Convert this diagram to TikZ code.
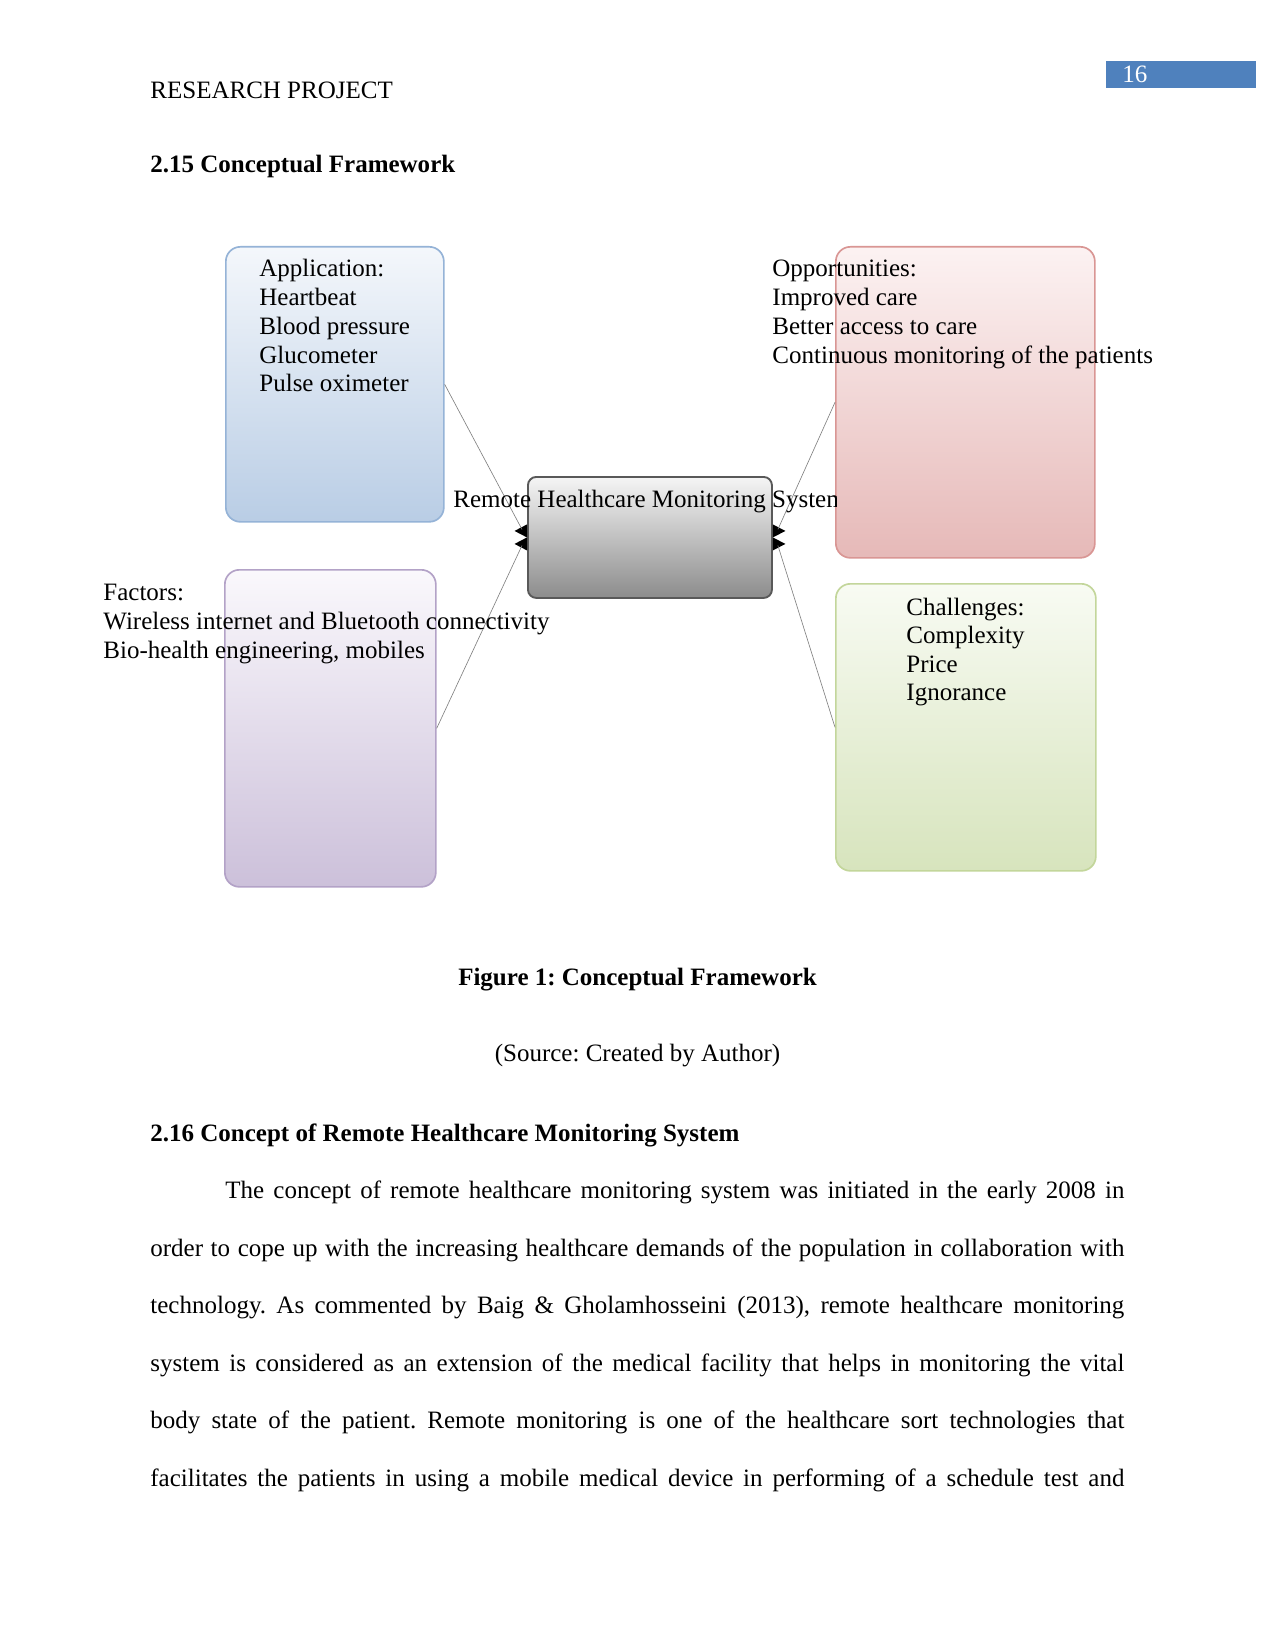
\documentclass[tikz,border=0pt]{standalone}
\usepackage{fontspec}
\setmainfont{Liberation Serif}
\frenchspacing
\usetikzlibrary{calc}
\definecolor{pnblue}{HTML}{4F81BD}
\definecolor{bluetop}{HTML}{F4F7FB}
\definecolor{bluebot}{HTML}{B9CDE5}
\definecolor{blueedge}{HTML}{95B3D7}
\definecolor{pinktop}{HTML}{FCF2F2}
\definecolor{pinkbot}{HTML}{E6B9B8}
\definecolor{pinkedge}{HTML}{D99694}
\definecolor{purptop}{HTML}{FAF8FC}
\definecolor{purpbot}{HTML}{CCC0DA}
\definecolor{purpedge}{HTML}{B3A2C7}
\definecolor{greentop}{HTML}{F8FBF3}
\definecolor{greenbot}{HTML}{D7E4BD}
\definecolor{greenedge}{HTML}{C3D69B}
\definecolor{centertop}{HTML}{F5F5F5}
\definecolor{centerbot}{HTML}{8C8C8C}
\definecolor{centeredge}{HTML}{595959}
\definecolor{linkgray}{HTML}{7F7F7F}
\tikzset{
  txt/.style={anchor=base west, inner sep=0pt, font=\fontsize{12}{13.8}\selectfont},
  txtb/.style={anchor=base west, inner sep=0pt, font=\fontsize{12}{13.8}\bfseries\selectfont},
  bx/.style={draw, rounded corners=7pt, line width=0.8pt, anchor=north west, inner sep=0pt},
  link/.style={draw=linkgray, line width=0.3pt},
}
\begin{document}
\begin{tikzpicture}[x=0.48pt,y=-0.48pt]
\path[fill=white, use as bounding box] (0,0) rectangle (1275,1650);

% header
\node[txt] (hdr) at (150,99) {RESEARCH PROJECT};
\node[fill=pnblue, anchor=north west, inner sep=0pt, minimum width={150*0.48pt}, minimum height={27*0.48pt}] (pnbox) at (1106,61) {};
\node[txt, text=white] (pn) at (1122,83) {16};

\node[txtb] (sec1) at (150,173) {2.15 Conceptual Framework};

% boxes
\node[bx, draw=blueedge, top color=bluetop, bottom color=bluebot,
      minimum width={218*0.48pt}, minimum height={275*0.48pt}] (app) at (225,246) {};
\node[bx, draw=pinkedge, top color=pinktop, bottom color=pinkbot,
      minimum width={259*0.48pt}, minimum height={311*0.48pt}] (opp) at (835,246) {};
\node[bx, draw=purpedge, top color=purptop, bottom color=purpbot,
      minimum width={211*0.48pt}, minimum height={317*0.48pt}] (fac) at (224,569) {};
\node[bx, draw=greenedge, top color=greentop, bottom color=greenbot,
      minimum width={260*0.48pt}, minimum height={287*0.48pt}] (chal) at (835,583) {};
\node[bx, rounded corners=4pt, draw=centeredge, line width=0.9pt, top color=centertop, bottom color=centerbot,
      minimum width={244*0.48pt}, minimum height={121*0.48pt}] (rhms) at (527,476) {};

% arrow tips
\fill (rhms.west) -- ++(-12.5,-6.5) -- ++(12.5,-6.5) -- cycle;
\fill (rhms.west) -- ++(-12.5,6.5) -- ++(12.5,6.5) -- cycle;
\fill (rhms.east) -- ++(12.5,-6.5) -- ++(-12.5,-6.5) -- cycle;
\fill (rhms.east) -- ++(12.5,6.5) -- ++(-12.5,6.5) -- cycle;

\coordinate (lt) at ($(rhms.west)+(-5,-8)$);
\coordinate (lb) at ($(rhms.west)+(-5,8)$);
\coordinate (rt) at ($(rhms.east)+(5,-8)$);
\coordinate (rb) at ($(rhms.east)+(5,8)$);

\draw[link] (app.east) -- (lt);
\draw[link] (fac.east) -- (lb);
\draw[link] (opp.west) -- (rt);
\draw[link] (chal.west) -- (rb);

% texts
\begin{scope}
\clip (0,0) rectangle (836,1650);
\node[txt] (rhmstxt) at (453,507) {Remote Healthcare Monitoring System};
\end{scope}

\foreach \t [count=\i from 0] in {Application:, Heartbeat, Blood pressure, Glucometer, Pulse oximeter}
  \node[txt] (appl\i) at (259,{277+\i*28.7}) {\t};
\foreach \t [count=\i from 0] in {Opportunities:, Improved care, Better access to care, Continuous monitoring of the patients}
  \node[txt] (oppl\i) at (772,{277+\i*28.7}) {\t};
\foreach \t [count=\i from 0] in {Factors:, Wireless internet and Bluetooth connectivity, {Bio-health engineering, mobiles}}
  \node[txt] (facl\i) at (103,{600+\i*29}) {\t};
\foreach \t [count=\i from 0] in {Challenges:, Complexity, Price, Ignorance}
  \node[txt] (chall\i) at (906,{615+\i*28.5}) {\t};

% caption
\node[txtb, anchor=base] (cap) at (637.5,985.5) {Figure 1: Conceptual Framework};
\node[txt, anchor=base] (src) at (637.5,1061.5) {(Source: Created by Author)};

\node[txtb] (sec2) at (150,1141) {2.16 Concept of Remote Healthcare Monitoring System};

\node[txt] (p1) at (225,1198.5) {\makebox[431.5pt][s]{The concept of remote healthcare monitoring system was initiated in the early 2008 in}};
\node[txt] (p2) at (150,1256) {\makebox[467.5pt][s]{order to cope up with the increasing healthcare demands of the population in collaboration with}};
\node[txt] (p3) at (150,1313.5) {\makebox[467.5pt][s]{technology. As commented by Baig \& Gholamhosseini (2013), remote healthcare monitoring}};
\node[txt] (p4) at (150,1371) {\makebox[467.5pt][s]{system is considered as an extension of the medical facility that helps in monitoring the vital}};
\node[txt] (p5) at (150,1428.5) {\makebox[467.5pt][s]{body state of the patient. Remote monitoring is one of the healthcare sort technologies that}};
\node[txt] (p6) at (150,1486) {\makebox[467.5pt][s]{facilitates the patients in using a mobile medical device in performing of a schedule test and}};
\end{tikzpicture}
\end{document}
